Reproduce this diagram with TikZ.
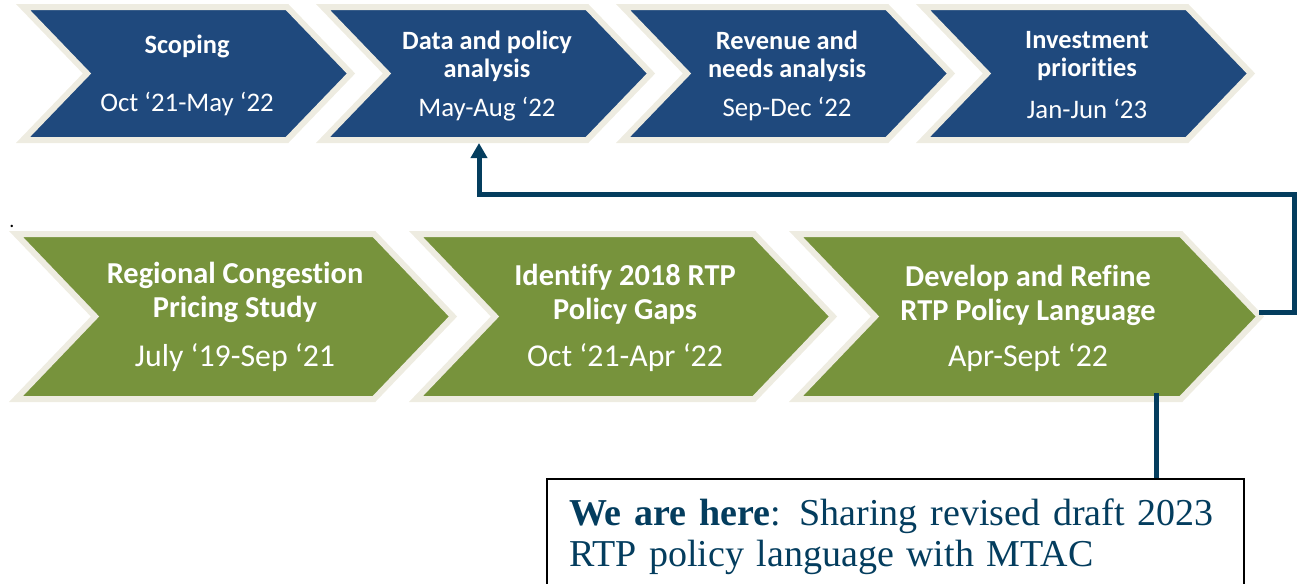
\documentclass[tikz,border=0pt]{standalone}
\usepackage{fontspec}
\setmainfont[Ligatures=NoCommon]{Carlito}
\newfontfamily\boxfont{Liberation Serif}
\usetikzlibrary{arrows.meta,calc}
\definecolor{chevblue}{RGB}{31,73,125}
\definecolor{chevgreen}{RGB}{119,147,60}
\definecolor{chevrim}{RGB}{238,236,225}
\definecolor{linkblue}{RGB}{4,61,94}

\begin{document}
\begin{tikzpicture}[x=.5pt,y=-.5pt,
        blue chev/.style={fill=chevblue, draw=chevrim, line width=3pt},
        green chev/.style={fill=chevgreen, draw=chevrim, line width=3pt},
        top title/.style={text=white, align=center, font=\fontsize{13.2}{14}\selectfont\bfseries},
        top date/.style={text=white, font=\fontsize{13.4}{16}\selectfont},
        low title/.style={text=white, align=center, font=\fontsize{15.2}{17}\selectfont\bfseries},
        low date/.style={text=white, font=\fontsize{15.9}{18}\selectfont},
        link line/.style={draw=linkblue, line width=2.5pt}]
        \clip (0,0) rectangle (1297,584);

        \begin{scope}[shift={(0,0)}]
          \filldraw[blue chev](23,7)--(287,7)--(351,73.5)--(287,140)--(23,140)--(87,73.5)--cycle;
          \node[top title] (scope-t) at (187,46) {Scoping};
          \node[top date ] (scope-d) at (187,104) {Oct ‘21-May ‘22};
        \end{scope}

        \begin{scope}[shift={(300,0)}]
          \filldraw[blue chev](23,7)--(287,7)--(351,73.5)--(287,140)--(23,140)--(87,73.5)--cycle;
          \node[top title] (data-t) at (187,56) {Data and policy\\analysis};
          \node[top date ] (data-d) at (187,109) {May-Aug ‘22};
          \coordinate (data-foot) at (179,143);
        \end{scope}

        \begin{scope}[shift={(600,0)}]
          \filldraw[blue chev](23,7)--(287,7)--(351,73.5)--(287,140)--(23,140)--(87,73.5)--cycle;
          \node[top title] (rev-t) at (187,56) {Revenue and\\needs analysis};
          \node[top date ] (rev-d) at (187,109) {Sep-Dec ‘22};
        \end{scope}

        \begin{scope}[shift={(900,0)}]
          \filldraw[blue chev](23,7)--(287,7)--(351,73.5)--(287,140)--(23,140)--(87,73.5)--cycle;
          \node[top title] (inv-t) at (187,56) {Investment\\priorities};
          \node[top date ] (inv-d) at (187,109) {Jan-Jun ‘23};
        \end{scope}

        \node[font=\fontsize{10}{10}\selectfont] (dot) at (12,226) {.};

        \begin{scope}[shift={(0,0)}]
          \filldraw[green chev](16,234)--(374,234)--(453,316.5)--(374,399)--(16,399)--(95,316.5)--cycle;
          \node[low title] (price-t) at (235,292) {Regional Congestion\\Pricing Study};
          \node[low date ] (price-d) at (235,358) {July ‘19-Sep ‘21};
        \end{scope}

        \begin{scope}[shift={(400,0)}]
          \filldraw[green chev](16,234)--(354,234)--(433,316.5)--(354,399)--(16,399)--(95,316.5)--cycle;
          \node[low title] (gap-t) at (225,294.5) {Identify 2018 RTP\\Policy Gaps};
          \node[low date ] (gap-d) at (225,358) {Oct ‘21-Apr ‘22};
        \end{scope}

        \begin{scope}[shift={(780,0)}]
          \filldraw[green chev](16,234)--(401,234)--(480,316.5)--(401,399)--(16,399)--(95,316.5)--cycle;
          \node[low title] (dev-t) at (248,295.5) {Develop and Refine\\RTP Policy Language};
          \node[low date ] (dev-d) at (248,358) {Apr-Sept ‘22};
          \coordinate (dev-tip) at (479,312);
          \coordinate (dev-foot) at (376,393);
        \end{scope}

        \coordinate (turn) at (1294,194);
        \draw[link line,-{Triangle[length=7.5pt,width=8pt]}]
          (dev-tip)-|(turn)-|(data-foot);

        \node[anchor=north west, draw=black, line width=1pt, fill=white,
              inner xsep=11pt, inner ysep=10pt, text width=326.5pt, align=left,
              text=linkblue, font=\boxfont\fontsize{19}{20.5}\selectfont]
          (here) at (546,478) {\textbf{We are here}: Sharing revised draft 2023\\RTP policy language with MTAC};
        \draw[link line] (dev-foot)--(dev-foot|-here.north);
\end{tikzpicture}
\end{document}
